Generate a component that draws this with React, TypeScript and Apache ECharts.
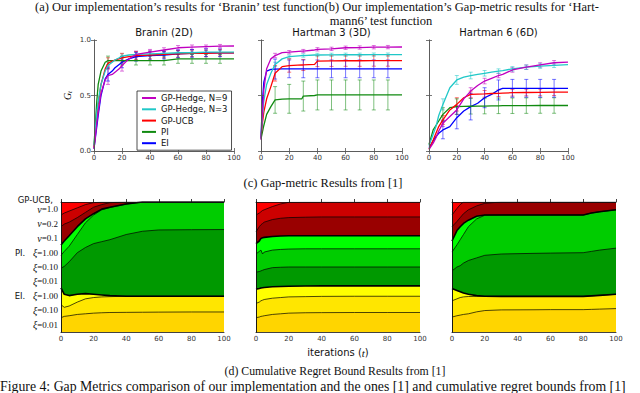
import React, { useEffect, useRef } from "react";
import * as echarts from "echarts";

// ---------- texts ----------
const captionTop1 =
  "(a) Our implementation\u2019s results for \u2018Branin\u2019 test function(b) Our implementation\u2019s Gap-metric results for \u2018Hart-";
const captionTop2 = "mann6\u2019 test function";
const captionC = "(c) Gap-metric Results from [1]";
const captionD = "(d) Cumulative Regret Bound Results from [1]";
const captionFig =
  "Figure 4: Gap Metrics comparison of our implementation and the ones [1] and cumulative regret bounds from [1]";

// ---------- gap metric (top row) ----------
const methods = ["GP-Hedge, N=9", "GP-Hedge, N=3", "GP-UCB", "PI", "EI"];
const methodColors = ["#C000C0", "#20C8C8", "#FF0000", "#108A10", "#0000FF"];
const gapTitles = ["Branin (2D)", "Hartman 3 (3D)", "Hartman 6 (6D)"];
const errT = [10, 20, 30, 40, 50, 60, 70, 80, 90];

const T_BR = [0, 2, 3, 5, 8, 10, 13, 15, 18, 20, 25, 30, 40, 50, 60, 70, 80, 90, 100];
const BR_HEDGE9 = [0.02, 0.25, 0.35, 0.52, 0.64, 0.68, 0.69, 0.71, 0.74, 0.77, 0.83, 0.87, 0.89, 0.91, 0.93, 0.935, 0.94, 0.945, 0.946];
const BR_HEDGE3 = [0.05, 0.35, 0.45, 0.6, 0.72, 0.77, 0.8, 0.82, 0.84, 0.855, 0.865, 0.87, 0.875, 0.88, 0.885, 0.885, 0.89, 0.89, 0.89];
const BR_UCB = [0.03, 0.3, 0.42, 0.6, 0.74, 0.79, 0.81, 0.82, 0.83, 0.84, 0.85, 0.86, 0.865, 0.87, 0.875, 0.88, 0.88, 0.885, 0.885];
const BR_PI = [0.05, 0.45, 0.6, 0.72, 0.8, 0.815, 0.815, 0.815, 0.815, 0.815, 0.815, 0.815, 0.815, 0.815, 0.83, 0.83, 0.83, 0.83, 0.83];
const BR_EI = [0.02, 0.22, 0.32, 0.5, 0.65, 0.69, 0.72, 0.75, 0.78, 0.8, 0.83, 0.85, 0.86, 0.865, 0.875, 0.88, 0.885, 0.885, 0.885];
const BR_ERR_HEDGE9 = [0.08, 0.05, 0.03, 0.025, 0.02, 0.02, 0.02, 0.015, 0.015];
const BR_ERR_HEDGE3 = [0.03, 0.02, 0.02, 0.015, 0.015, 0.015, 0.015, 0.015, 0.015];
const BR_ERR_UCB = [0.05, 0.04, 0.035, 0.035, 0.03, 0.03, 0.03, 0.03, 0.03];
const BR_ERR_PI = [0.04, 0.04, 0.04, 0.04, 0.04, 0.04, 0.04, 0.04, 0.04];
const BR_ERR_EI = [0.06, 0.05, 0.04, 0.04, 0.035, 0.035, 0.035, 0.035, 0.035];

const T_H3 = [0, 1, 2, 4, 7, 10, 15, 20, 29, 30, 38, 40, 50, 60, 70, 80, 90, 100];
const H3_HEDGE9 = [0.1, 0.35, 0.55, 0.74, 0.83, 0.86, 0.886, 0.89, 0.9, 0.9, 0.91, 0.916, 0.92, 0.93, 0.932, 0.935, 0.936, 0.937];
const H3_HEDGE3 = [0.12, 0.3, 0.45, 0.6, 0.7, 0.78, 0.83, 0.85, 0.86, 0.86, 0.865, 0.865, 0.866, 0.867, 0.867, 0.868, 0.868, 0.868];
const H3_UCB = [0.12, 0.25, 0.35, 0.47, 0.58, 0.7, 0.76, 0.77, 0.775, 0.775, 0.78, 0.81, 0.812, 0.813, 0.813, 0.814, 0.814, 0.814];
const H3_PI = [0.11, 0.17, 0.23, 0.33, 0.4, 0.46, 0.468, 0.47, 0.47, 0.495, 0.5, 0.505, 0.505, 0.505, 0.505, 0.505, 0.505, 0.505];
const H3_EI = [0.12, 0.45, 0.62, 0.72, 0.735, 0.738, 0.74, 0.74, 0.74, 0.74, 0.74, 0.74, 0.74, 0.74, 0.74, 0.74, 0.74, 0.74];
const H3_ERR_HEDGE9 = [0.02, 0.015, 0.015, 0.015, 0.015, 0.015, 0.015, 0.015, 0.015];
const H3_ERR_HEDGE3 = [0.02, 0.015, 0.015, 0.015, 0.015, 0.015, 0.015, 0.015, 0.015];
const H3_ERR_UCB = [0.07, 0.06, 0.05, 0.05, 0.05, 0.05, 0.05, 0.05, 0.05];
const H3_ERR_PI = [0.12, 0.13, 0.135, 0.135, 0.135, 0.135, 0.135, 0.135, 0.135];
const H3_ERR_EI = [0.09, 0.08, 0.08, 0.08, 0.08, 0.08, 0.08, 0.08, 0.08];

const T_H6 = [0, 3, 5, 7, 10, 15, 20, 25, 30, 35, 40, 45, 50, 53, 60, 70, 80, 90, 100];
const H6_HEDGE9 = [0.015, 0.07, 0.12, 0.18, 0.25, 0.31, 0.37, 0.47, 0.54, 0.59, 0.63, 0.655, 0.68, 0.69, 0.73, 0.755, 0.775, 0.795, 0.8];
const H6_HEDGE3 = [0.05, 0.15, 0.22, 0.32, 0.42, 0.57, 0.64, 0.665, 0.68, 0.69, 0.7, 0.71, 0.72, 0.725, 0.74, 0.755, 0.765, 0.772, 0.778];
const H6_UCB = [0.015, 0.1, 0.16, 0.22, 0.28, 0.37, 0.42, 0.48, 0.51, 0.513, 0.515, 0.518, 0.52, 0.522, 0.525, 0.527, 0.528, 0.53, 0.53];
const H6_PI = [0.06, 0.19, 0.23, 0.27, 0.33, 0.39, 0.4, 0.402, 0.403, 0.404, 0.405, 0.406, 0.407, 0.408, 0.408, 0.409, 0.41, 0.41, 0.41];
const H6_EI = [0.03, 0.09, 0.13, 0.16, 0.19, 0.22, 0.3, 0.36, 0.4, 0.43, 0.48, 0.51, 0.55, 0.565, 0.565, 0.565, 0.565, 0.565, 0.565];
const H6_ERR_HEDGE9 = [0.03, 0.04, 0.03, 0.025, 0.02, 0.02, 0.02, 0.02, 0.02];
const H6_ERR_HEDGE3 = [0.05, 0.04, 0.03, 0.025, 0.02, 0.02, 0.02, 0.02, 0.02];
const H6_ERR_UCB = [0.04, 0.06, 0.03, 0.03, 0.03, 0.03, 0.03, 0.03, 0.03];
const H6_ERR_PI = [0.06, 0.07, 0.07, 0.07, 0.07, 0.07, 0.07, 0.07, 0.07];
const H6_ERR_EI = [0.08, 0.1, 0.12, 0.09, 0.09, 0.08, 0.08, 0.08, 0.08];

// ---------- cumulative regret bound (bottom row) ----------
// boundaries between the 9 stacked layers, as fraction from the top
const regretLabels = ["ξ=0.01", "ξ=0.10", "ξ=1.00", "ξ=0.01", "ξ=0.10", "ξ=1.00", "ν=0.1", "ν=0.2", "ν=1.0"];
const regretGroups = ["EI.", "PI.", "GP-UCB,"];
const layerColors = ["#FF0000", "#CC0000", "#990000", "#00FF00", "#00CC00", "#009900", "#FFFF00", "#FFE600", "#FFD500"];

const T_RB = [0, 2, 5, 10, 15, 20, 25, 30, 40, 50, 60, 80, 100];
const RB_B1 = [0.1, 0.085, 0.07, 0.045, 0.02, 0.005, 0, 0, 0, 0, 0, 0, 0];
const RB_B2 = [0.19, 0.17, 0.155, 0.12, 0.08, 0.04, 0.02, 0.005, 0, 0, 0, 0, 0];
const RB_B3 = [0.33, 0.3, 0.26, 0.19, 0.13, 0.09, 0.055, 0.04, 0.015, 0, 0, 0, 0];
const RB_B4 = [0.41, 0.38, 0.34, 0.25, 0.16, 0.1, 0.06, 0.042, 0.016, 0, 0, 0, 0];
const RB_B5 = [0.51, 0.495, 0.46, 0.39, 0.35, 0.32, 0.305, 0.29, 0.25, 0.225, 0.215, 0.213, 0.212];
const RB_B6 = [0.66, 0.71, 0.72, 0.71, 0.705, 0.71, 0.715, 0.72, 0.725, 0.725, 0.725, 0.725, 0.725];
const RB_B7 = [0.79, 0.81, 0.8, 0.77, 0.745, 0.735, 0.73, 0.728, 0.725, 0.725, 0.725, 0.725, 0.725];
const RB_B8 = [0.89, 0.88, 0.875, 0.865, 0.86, 0.855, 0.852, 0.85, 0.849, 0.848, 0.847, 0.846, 0.846];

const T_RH3 = [0, 2, 3, 4, 5, 10, 15, 20, 30, 40, 60, 80, 100];
const RH3_B1 = [0.1, 0.085, 0.075, 0.065, 0.06, 0.035, 0.015, 0.002, 0, 0, 0, 0, 0];
const RH3_B2 = [0.23, 0.19, 0.175, 0.165, 0.155, 0.135, 0.125, 0.12, 0.117, 0.115, 0.115, 0.115, 0.115];
const RH3_B3 = [0.32, 0.3, 0.28, 0.275, 0.272, 0.265, 0.262, 0.26, 0.26, 0.26, 0.26, 0.26, 0.26];
const RH3_B4 = [0.4, 0.38, 0.37, 0.4, 0.385, 0.37, 0.365, 0.362, 0.36, 0.36, 0.36, 0.36, 0.36];
const RH3_B5 = [0.54, 0.535, 0.53, 0.525, 0.52, 0.505, 0.502, 0.5, 0.5, 0.5, 0.5, 0.5, 0.5];
const RH3_B6 = [0.67, 0.665, 0.662, 0.66, 0.658, 0.652, 0.65, 0.648, 0.646, 0.645, 0.645, 0.645, 0.645];
const RH3_B7 = [0.78, 0.77, 0.76, 0.755, 0.75, 0.74, 0.735, 0.73, 0.728, 0.726, 0.725, 0.725, 0.725];
const RH3_B8 = [0.89, 0.885, 0.88, 0.878, 0.875, 0.865, 0.86, 0.855, 0.852, 0.851, 0.85, 0.85, 0.85];

const T_RH6 = [0, 3, 5, 7, 10, 15, 20, 30, 50, 60, 80, 85, 90, 100];
const RH6_B1 = [0.1, 0.05, 0.02, 0, 0, 0, 0, 0, 0, 0, 0, 0, 0, 0];
const RH6_B2 = [0.19, 0.15, 0.12, 0.09, 0.06, 0.03, 0.01, 0, 0, 0, 0, 0, 0, 0];
const RH6_B3 = [0.3, 0.22, 0.19, 0.165, 0.14, 0.11, 0.1, 0.1, 0.1, 0.1, 0.1, 0.085, 0.075, 0.06];
const RH6_B4 = [0.385, 0.33, 0.29, 0.25, 0.19, 0.13, 0.102, 0.1, 0.1, 0.1, 0.1, 0.085, 0.075, 0.06];
const RH6_B5 = [0.53, 0.5, 0.49, 0.47, 0.45, 0.43, 0.41, 0.4, 0.395, 0.393, 0.39, 0.38, 0.37, 0.355];
const RH6_B6 = [0.665, 0.68, 0.69, 0.7, 0.71, 0.72, 0.725, 0.726, 0.726, 0.726, 0.726, 0.722, 0.718, 0.71];
const RH6_B7 = [0.76, 0.745, 0.735, 0.73, 0.727, 0.726, 0.726, 0.726, 0.726, 0.726, 0.726, 0.722, 0.718, 0.71];
const RH6_B8 = [0.885, 0.875, 0.87, 0.865, 0.86, 0.845, 0.835, 0.83, 0.829, 0.828, 0.828, 0.826, 0.824, 0.82];

const gapCharts = [
  { t: T_BR, lines: [BR_HEDGE9, BR_HEDGE3, BR_UCB, BR_PI, BR_EI], errs: [BR_ERR_HEDGE9, BR_ERR_HEDGE3, BR_ERR_UCB, BR_ERR_PI, BR_ERR_EI] },
  { t: T_H3, lines: [H3_HEDGE9, H3_HEDGE3, H3_UCB, H3_PI, H3_EI], errs: [H3_ERR_HEDGE9, H3_ERR_HEDGE3, H3_ERR_UCB, H3_ERR_PI, H3_ERR_EI] },
  { t: T_H6, lines: [H6_HEDGE9, H6_HEDGE3, H6_UCB, H6_PI, H6_EI], errs: [H6_ERR_HEDGE9, H6_ERR_HEDGE3, H6_ERR_UCB, H6_ERR_PI, H6_ERR_EI] },
];
const regretCharts = [
  { t: T_RB, b: [RB_B1, RB_B2, RB_B3, RB_B4, RB_B5, RB_B6, RB_B7, RB_B8] },
  { t: T_RH3, b: [RH3_B1, RH3_B2, RH3_B3, RH3_B4, RH3_B5, RH3_B6, RH3_B7, RH3_B8] },
  { t: T_RH6, b: [RH6_B1, RH6_B2, RH6_B3, RH6_B4, RH6_B5, RH6_B6, RH6_B7, RH6_B8] },
];

const SANS = "DejaVu Sans";
const SERIF = "Liberation Serif";

function buildOption() {
  const grid = [
    { left: 94, top: 40, width: 140, height: 111 },
    { left: 261, top: 40, width: 141, height: 111 },
    { left: 429, top: 40, width: 139, height: 111 },
    { left: 61, top: 202, width: 163, height: 130, show: true, backgroundColor: layerColors[0], borderWidth: 0 },
    { left: 256, top: 202, width: 164, height: 130, show: true, backgroundColor: layerColors[0], borderWidth: 0 },
    { left: 452, top: 202, width: 164, height: 130, show: true, backgroundColor: layerColors[0], borderWidth: 0 },
  ];
  const frameTop = "#555";
  const frameBot = "#111";
  const xAxis: any[] = [];
  const yAxis: any[] = [];
  for (let g = 0; g < 6; g++) {
    const col = g < 3 ? frameTop : frameBot;
    const base = {
      type: "value",
      gridIndex: g,
      min: 0,
      max: 100,
      interval: 20,
      splitLine: { show: false },
      axisLine: { show: true, lineStyle: { color: col, width: 0.8 } },
      axisTick: { show: true, inside: true, length: 3, lineStyle: { color: col, width: 0.8 } },
      z: 10,
    };
    xAxis.push({
      ...base,
      position: "bottom",
      axisLabel: { fontSize: 7, color: "#333", margin: 3, fontFamily: SANS },
      ...(g === 4
        ? {
            name: "{a|iterations (}{b|t}{a|)}",
            nameLocation: "middle",
            nameGap: 15,
            nameTextStyle: {
              rich: {
                a: { fontFamily: SANS, fontSize: 10, color: "#111" },
                b: { fontFamily: SERIF, fontStyle: "italic", fontSize: 11, color: "#111" },
              },
            },
          }
        : {}),
    });
  }
  for (let g = 0; g < 6; g++) {
    const col = g < 3 ? frameTop : frameBot;
    xAxis.push({
      type: "value",
      gridIndex: g,
      min: 0,
      max: 100,
      interval: 20,
      position: "top",
      splitLine: { show: false },
      axisLabel: { show: false },
      axisLine: { show: true, lineStyle: { color: col, width: 0.8 } },
      axisTick: { show: g < 3, inside: true, length: 3, lineStyle: { color: col, width: 0.8 } },
      z: 10,
    });
  }
  for (let g = 0; g < 6; g++) {
    const col = g < 3 ? frameTop : frameBot;
    if (g < 3) {
      yAxis.push({
        type: "value",
        gridIndex: g,
        min: 0,
        max: 1,
        interval: 0.5,
        splitLine: { show: false },
        axisLine: { show: true, lineStyle: { color: col, width: 0.8 } },
        axisTick: { show: true, inside: true, length: 3, lineStyle: { color: col, width: 0.8 } },
        axisLabel: {
          show: g === 0,
          fontSize: 7,
          color: "#333",
          margin: 3,
          fontFamily: SANS,
          formatter: (v: number) => v.toFixed(1),
        },
        ...(g === 0
          ? {
              name: "{g|G}{t|t}",
              nameLocation: "middle",
              nameGap: 21,
              nameRotate: 90,
              nameTextStyle: {
                rich: {
                  g: { fontFamily: SERIF, fontStyle: "italic", fontSize: 10, color: "#111" },
                  t: { fontFamily: SERIF, fontStyle: "italic", fontSize: 7, color: "#111", padding: [4, 0, 0, 0] },
                },
              },
            }
          : {}),
        z: 10,
      });
    } else {
      yAxis.push({
        type: "value",
        gridIndex: g,
        min: 0,
        max: 1,
        inverse: true,
        splitLine: { show: false },
        axisLine: { show: true, lineStyle: { color: col, width: 0.8 } },
        axisTick: { show: false },
        axisLabel: { show: false },
        z: 10,
      });
    }
  }
  for (let g = 0; g < 6; g++) {
    const col = g < 3 ? frameTop : frameBot;
    yAxis.push({
      type: "value",
      gridIndex: g,
      min: 0,
      max: 1,
      interval: 0.5,
      position: "right",
      splitLine: { show: false },
      axisLabel: { show: false },
      axisLine: { show: true, lineStyle: { color: col, width: 0.8 } },
      axisTick: { show: g < 3, inside: true, length: 3, lineStyle: { color: col, width: 0.8 } },
      z: 10,
    });
  }
  // category label axis for the first regret chart (index 12)
  const richLab = {
    a: { fontFamily: SANS, fontSize: 8.5, color: "#111" },
    i: { fontFamily: SERIF, fontStyle: "italic", fontSize: 10, color: "#111" },
    s: { fontFamily: SERIF, fontSize: 9, color: "#111" },
  };
  yAxis.push({
    type: "category",
    gridIndex: 3,
    position: "left",
    data: regretLabels.map((_, i) => String(i)),
    axisLine: { show: false },
    axisTick: { show: false },
    splitLine: { show: false },
    axisLabel: {
      margin: 3,
      interval: 0,
      rich: richLab,
      formatter: (v: string) => {
        const i = Number(v);
        const lab = regretLabels[i];
        const sym = lab.charAt(0);
        const rest = lab.slice(1);
        const prefix = i === 2 ? "{a|" + regretGroups[0] + "}  " : i === 5 ? "{a|" + regretGroups[1] + "}  " : "";
        return prefix + "{i|" + sym + "}{s|" + rest + "}";
      },
    },
  });

  const series: any[] = [];
  gapCharts.forEach((c, g) => {
    c.lines.forEach((vals, m) => {
      const col = methodColors[m];
      const idx = errT.map((t) => c.t.indexOf(t));
      series.push({
        type: "custom",
        name: "err-" + g + "-" + m,
        xAxisIndex: g,
        yAxisIndex: g,
        data: errT.map((t, j) => [t, vals[idx[j]] - c.errs[m][j], vals[idx[j]] + c.errs[m][j]]),
        encode: { x: 0, y: [1, 2] },
        z: 2,
        silent: true,
        renderItem: (params: any, api: any) => {
          const x = api.value(0);
          const lo = api.coord([x, api.value(1)]);
          const hi = api.coord([x, api.value(2)]);
          const st = { stroke: col, lineWidth: 0.9, opacity: 0.6 };
          return {
            type: "group",
            children: [
              { type: "line", shape: { x1: lo[0], y1: lo[1], x2: hi[0], y2: hi[1] }, style: st },
              { type: "line", shape: { x1: lo[0] - 2, y1: lo[1], x2: lo[0] + 2, y2: lo[1] }, style: st },
              { type: "line", shape: { x1: hi[0] - 2, y1: hi[1], x2: hi[0] + 2, y2: hi[1] }, style: st },
            ],
          };
        },
      });
    });
    [4, 3, 2, 1, 0].forEach((m) => {
      series.push({
        type: "line",
        name: methods[m],
        xAxisIndex: g,
        yAxisIndex: g,
        data: c.t.map((t, k) => [t, c.lines[m][k]]),
        showSymbol: false,
        symbol: "none",
        color: methodColors[m],
        lineStyle: { color: methodColors[m], width: 1.3 },
        z: 3,
        silent: true,
      });
    });
  });
  regretCharts.forEach((c, r) => {
    c.b.forEach((vals, k) => {
      series.push({
        type: "line",
        name: "layer-" + r + "-" + k,
        xAxisIndex: 3 + r,
        yAxisIndex: 3 + r,
        data: c.t.map((t, j) => [t, vals[j]]),
        showSymbol: false,
        symbol: "none",
        lineStyle: { color: "#000", width: k === 2 || k === 5 ? 1.6 : 0.7 },
        areaStyle: { color: layerColors[k + 1], opacity: 1, origin: "end" },
        z: 2,
        silent: true,
      });
    });
  });

  const graphic: any[] = [
    { type: "text", x: 35, y: 7, style: { text: captionTop1, fontFamily: SERIF, fontSize: 12.5, lineHeight: 13, fill: "#111", textAlign: "left", textVerticalAlign: "middle" } },
    { type: "text", x: 381, y: 20.5, style: { text: captionTop2, fontFamily: SERIF, fontSize: 12.5, lineHeight: 13, fill: "#111", textAlign: "center", textVerticalAlign: "middle" } },
    { type: "text", x: 323, y: 183, style: { text: captionC, fontFamily: SERIF, fontSize: 12.5, fill: "#111", textAlign: "center", textVerticalAlign: "middle" } },
    { type: "text", x: 335, y: 371, style: { text: captionD, fontFamily: SERIF, fontSize: 11.8, fill: "#111", textAlign: "center", textVerticalAlign: "middle" } },
    { type: "text", x: 0, y: 386, style: { text: captionFig, fontFamily: SERIF, fontSize: 13.8, fill: "#111", textAlign: "left", textVerticalAlign: "middle" } },
    { type: "text", x: 53, y: 200, style: { text: regretGroups[2], fontFamily: SANS, fontSize: 8.5, fill: "#111", textAlign: "right", textVerticalAlign: "middle" } },
  ];
  const centers = [164, 331.5, 498.5];
  gapTitles.forEach((t, i) => {
    graphic.push({
      type: "text",
      x: centers[i],
      y: 32,
      style: { text: t, fontFamily: SANS, fontSize: 10, fill: "#111", textAlign: "center", textVerticalAlign: "middle" },
    });
  });

  return {
    animation: false,
    backgroundColor: "#ffffff",
    textStyle: { fontFamily: SANS },
    grid,
    xAxis,
    yAxis,
    series,
    legend: {
      data: methods,
      orient: "vertical",
      left: 137,
      top: 91,
      itemWidth: 14,
      itemHeight: 2,
      itemGap: 1.3,
      icon: "rect",
      textStyle: { fontSize: 8.5, fontFamily: SANS, color: "#111", lineHeight: 10 },
      borderColor: "#222",
      borderWidth: 0.8,
      padding: [2, 4, 2, 5],
      backgroundColor: "#fff",
      selectedMode: false,
      z: 20,
    },
    graphic,
  };
}

export default function App() {
  const ref = useRef<HTMLDivElement>(null);
  useEffect(() => {
    if (!ref.current) return;
    const chart = echarts.init(ref.current, undefined, { renderer: "svg" });
    chart.setOption(buildOption() as any);
    return () => chart.dispose();
  }, []);
  return <div ref={ref} style={{ position: "fixed", left: 0, top: 0, width: 640, height: 393 }} />;
}
